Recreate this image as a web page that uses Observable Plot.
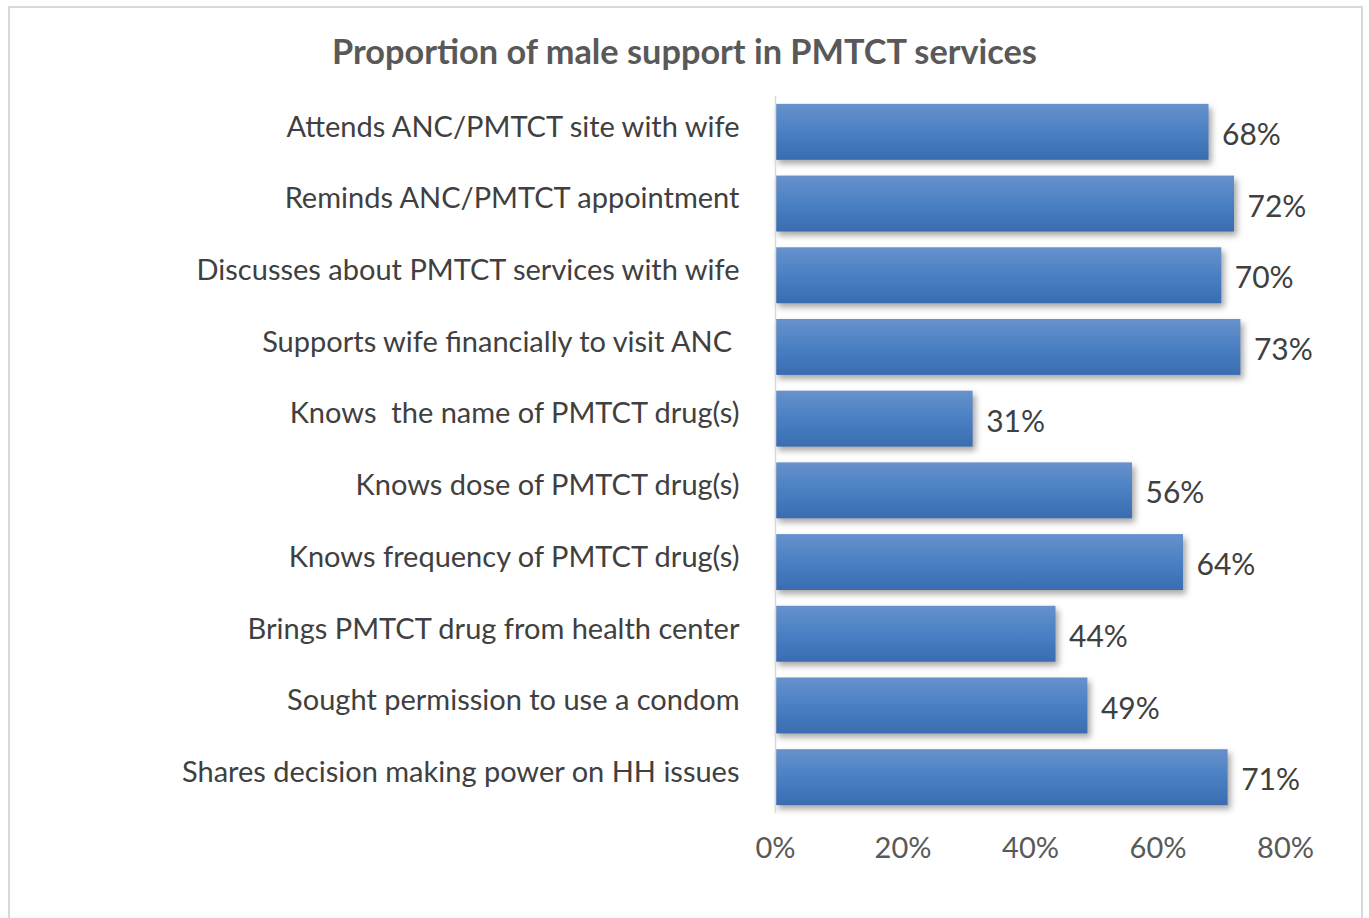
<!DOCTYPE html>
<html>
<head>
<meta charset="utf-8">
<script src="https://cdn.jsdelivr.net/npm/d3@7"></script>
<script src="https://cdn.jsdelivr.net/npm/@observablehq/plot@0.6"></script>
<style>
  html, body { margin: 0; padding: 0; background: #fff; }
  #frame { position: relative; width: 1369px; height: 918px; overflow: hidden; background: #fff; }
  #border { position: absolute; left: 8px; top: 6px; width: 1355px; height: 940px; border: 2px solid #d9d9d9; box-sizing: border-box; }
  #title { position: absolute; left: 0; top: 34px; width: 1369px; text-align: center;
           font-family: Lato, sans-serif; font-weight: bold; font-size: 34.3px; line-height: 1; color: #595959; }
  #chart { position: absolute; left: 0; top: 90px; }
  #chart svg text { white-space: pre; }
</style>
</head>
<body>
<div id="frame">
  <div id="border"></div>
  <div id="title">Proportion of male support in PMTCT services</div>
  <div id="chart"></div>
</div>
<script>
const categories = [
  "Attends ANC/PMTCT site with wife",
  "Reminds ANC/PMTCT appointment",
  "Discusses about PMTCT services with wife",
  "Supports wife financially to visit ANC ",
  "Knows  the name of PMTCT drug(s)",
  "Knows dose of PMTCT drug(s)",
  "Knows frequency of PMTCT drug(s)",
  "Brings PMTCT drug from health center",
  "Sought permission to use a condom",
  "Shares decision making power on HH issues"
];
const values = [68, 72, 70, 73, 31, 56, 64, 44, 49, 71];
const xTicks = [0, 20, 40, 60, 80];

const data = categories.map((c, i) => ({category: c, value: values[i]}));

const chart = Plot.plot({
  width: 1369,
  height: 828,
  marginLeft: 775,
  marginRight: 84,
  marginTop: 6,
  marginBottom: 105,
  style: {fontFamily: "Lato, sans-serif", background: "transparent"},
  x: {domain: [0, 80]},
  y: {domain: categories, paddingInner: 0.22, paddingOuter: 0.11, round: false},
  marks: [
    Plot.barX(data, {y: "category", x: "value", fill: "url(#barGrad)", className: "bars"}),
    Plot.ruleX([0], {stroke: "#d9d9d9", strokeWidth: 1.5}),
    Plot.text(data, {y: "category", x: "value", text: d => d.value + "%", textAnchor: "start",
                     dx: 13, dy: 3, fontSize: 30, fill: "#404040"}),
    Plot.axisY({tickSize: 0, tickPadding: 36, fontSize: 29, dy: -5, color: "#404040", label: null}),
    Plot.axisX({ticks: xTicks, tickFormat: d => d + "%", tickSize: 0, tickPadding: 24,
                fontSize: 29, color: "#595959", label: null})
  ]
});

const svg = d3.select(chart);
svg.insert("defs", ":first-child").html(`
  <linearGradient id="barGrad" x1="0" y1="0" x2="0" y2="1">
    <stop offset="0%" stop-color="#6791cd"/>
    <stop offset="50%" stop-color="#4a80c3"/>
    <stop offset="100%" stop-color="#3a6cb0"/>
  </linearGradient>`);
svg.selectAll("g.bars, g[aria-label='bar']").style("filter", "drop-shadow(3px 4px 3px rgba(0,0,0,0.35))");
document.getElementById("chart").appendChild(chart);
</script>
</body>
</html>
